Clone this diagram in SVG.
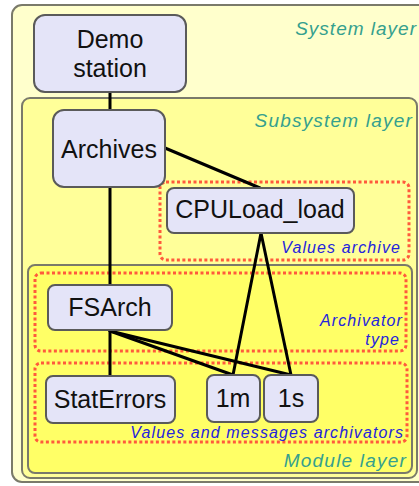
<svg xmlns="http://www.w3.org/2000/svg" width="419" height="486" viewBox="0 0 419 486">
<style>
.layer{stroke:#7a7a6a;stroke-width:2}
.node rect{fill:#e4e4f8;stroke:#5a5a5a;stroke-width:2}
.node text{font-family:"Liberation Sans",Arial,sans-serif;font-size:25px;fill:#111;text-anchor:middle}
.grp{fill:none;stroke:#ff5a3c;stroke-width:3;stroke-dasharray:3 2.5}
.lbl{font-family:"Liberation Sans",Arial,sans-serif;font-style:italic;text-anchor:end}
.lay{font-size:19px;fill:#35a08e;letter-spacing:1.2px}
.grl{font-size:16px;fill:#2424dd;letter-spacing:1.1px}
.conn line{stroke:#000;stroke-width:3;stroke-linecap:round}
</style>
<rect width="419" height="486" fill="#ffffff"/>
<g id="system-layer">
<rect class="layer" x="12" y="5" width="420" height="477" rx="10" fill="#ffffcc"/>
<text class="lbl lay" x="417" y="35" style="letter-spacing:1px">System layer</text>
</g>
<g id="subsystem-layer">
<rect class="layer" x="22" y="98" width="395" height="380" rx="8" fill="#ffff99"/>
<text class="lbl lay" x="413" y="127">Subsystem layer</text>
</g>
<g id="module-layer">
<rect class="layer" x="28" y="265" width="384" height="208" rx="7" fill="#ffff66"/>
<text class="lbl lay" x="407" y="467">Module layer</text>
</g>
<g id="values-archive-group">
<rect class="grp" x="160" y="182" width="249" height="78" rx="6"/>
<text class="lbl grl" x="401" y="253">Values archive</text>
</g>
<g id="archivator-type-group">
<rect class="grp" x="35" y="273" width="371" height="78" rx="6"/>
<text class="lbl grl" x="403" y="326">Archivator</text>
<text class="lbl grl" x="400" y="345">type</text>
</g>
<g id="archivators-group">
<rect class="grp" x="35" y="363" width="372" height="79" rx="6"/>
<text class="lbl grl" x="404" y="438">Values and messages archivators</text>
</g>
<g id="connectors" class="conn">
<line x1="110" y1="92" x2="110" y2="110"/>
<line x1="110" y1="187" x2="110" y2="285"/>
<line x1="110" y1="330" x2="110" y2="376"/>
<line x1="165" y1="148" x2="260" y2="188"/>
<line x1="261" y1="233" x2="233" y2="375"/>
<line x1="261" y1="233" x2="291" y2="375"/>
<line x1="110" y1="331" x2="233" y2="375"/>
<line x1="110" y1="331" x2="291" y2="375"/>
</g>
<g id="demo-station" class="node">
<rect x="34" y="15" width="152" height="77" rx="11"/>
<text x="110" y="48">Demo</text>
<text x="110" y="77">station</text>
</g>
<g id="archives" class="node">
<rect x="53" y="110" width="112" height="77" rx="11"/>
<text x="109" y="158">Archives</text>
</g>
<g id="cpuload-load" class="node">
<rect x="167" y="188" width="187" height="45" rx="7"/>
<text x="260" y="218">CPULoad_load</text>
</g>
<g id="fsarch" class="node">
<rect x="48" y="285" width="124" height="45" rx="7"/>
<text x="110" y="316">FSArch</text>
</g>
<g id="staterrors" class="node">
<rect x="46" y="376" width="129" height="47" rx="7"/>
<text x="110" y="408">StatErrors</text>
</g>
<g id="n1m" class="node">
<rect x="207" y="375" width="53" height="47" rx="7"/>
<text x="233" y="407">1m</text>
</g>
<g id="n1s" class="node">
<rect x="264" y="375" width="54" height="47" rx="7"/>
<text x="291" y="407">1s</text>
</g>
</svg>
